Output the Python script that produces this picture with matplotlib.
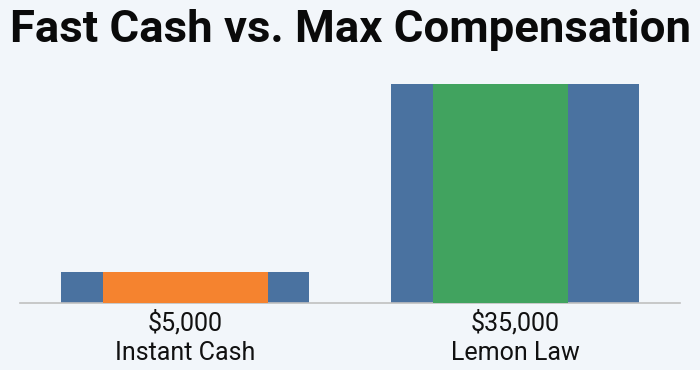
import matplotlib
matplotlib.use("Agg")
import matplotlib.pyplot as plt
from matplotlib import font_manager

categories = ["Instant Cash", "Lemon Law"]
values = [5000, 35000]
value_labels = ["$5,000", "$35,000"]
inner_colors = ["#f5832f", "#41a35f"]
inner_widths = [0.5, 0.41]

plt.rcParams['font.family'] = ['Roboto', 'DejaVu Sans']
bg = "#f2f6fa"
fig = plt.figure(figsize=(7, 3.7), dpi=100, facecolor=bg)
H = 370.0
W = 700.0
ax = fig.add_axes([20 / W, (H - 303) / H, 660 / W, (303 - 77.7) / H])
ax.set_facecolor(bg)

x = list(range(len(categories)))
ax.bar(x, values, width=0.75, color="#4a72a0", zorder=2)
for xi, v, c, w in zip(x, values, inner_colors, inner_widths):
    ax.bar(xi - 0.25, v, width=w, align='edge', color=c, zorder=3)

ax.set_xlim(-0.5, 1.5)
ax.set_ylim(0, 36000)
for s in ["top", "right", "left"]:
    ax.spines[s].set_visible(False)
ax.spines["bottom"].set_color("#c0c0c0")
ax.spines["bottom"].set_linewidth(1.2)
ax.set_yticks([])
ax.set_xticks(x)
ax.set_xticklabels([f"{vl}\n{c}" for vl, c in zip(value_labels, categories)],
                   fontsize=18, color="#111111", linespacing=1.3)
ax.tick_params(axis='x', length=0, pad=5)

names = {f.name for f in font_manager.fontManager.ttflist}
if "Liberation Sans Narrow" in names:
    tfam, tsize = ["Liberation Sans Narrow", "DejaVu Sans"], 36
else:
    tfam, tsize = ["Roboto", "DejaVu Sans"], 31
t = fig.text(0.5, 1 - 30 / H, "Fast Cash vs. Max Compensation", ha="center", va="center",
             fontsize=tsize, fontweight="bold", color="#0a0a0a", family=tfam)

# fit the title to about 680 px wide
fig.canvas.draw()
bb = t.get_window_extent()
if bb.width > 0:
    t.set_fontsize(tsize * 680.0 / bb.width)

fig.savefig("out.png", dpi=100, facecolor=bg)
